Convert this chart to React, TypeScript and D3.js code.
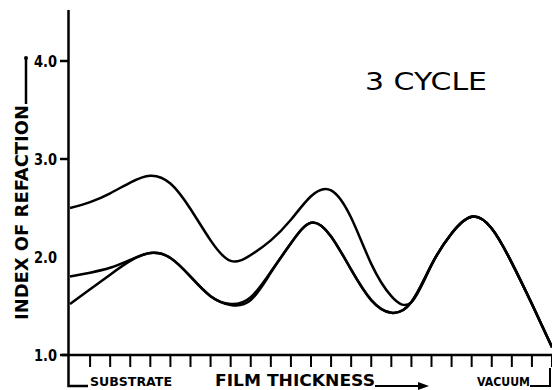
import * as d3 from "d3";
import React, { useRef, useEffect } from "react";

// film thickness steps (one per tick on the bottom axis)
const steps = [0, 1, 2, 3, 4, 5, 6, 7, 8, 9, 10, 11, 12, 13, 14, 15, 16, 17, 18, 19, 20, 21, 22, 23, 24];

const upperIndex = [2.5, 2.56, 2.65, 2.76, 2.83, 2.75, 2.49, 2.17, 1.96, 2.02, 2.17, 2.38, 2.62, 2.68, 2.4, 1.93, 1.6, 1.54, 1.92, 2.24, 2.41, 2.29, 1.94, 1.52, 1.08];
const middleIndex = [1.8, 1.84, 1.89, 1.97, 2.04, 1.99, 1.8, 1.6, 1.51, 1.56, 1.84, 2.14, 2.35, 2.21, 1.87, 1.56, 1.43, 1.54, 1.92, 2.24, 2.41, 2.29, 1.94, 1.52, 1.08];
const lowerIndex = [1.52, 1.67, 1.82, 1.96, 2.04, 1.99, 1.8, 1.6, 1.52, 1.59, 1.85, 2.14, 2.35, 2.21, 1.87, 1.56, 1.43, 1.54, 1.92, 2.24, 2.41, 2.29, 1.94, 1.52, 1.08];

const yTicks = [1, 2, 3, 4];
const yTickLabels = ["1.0", "2.0", "3.0", "4.0"];

const width = 552;
const height = 390;

export default function App() {
  const ref = useRef<SVGSVGElement>(null);

  useEffect(() => {
    const svg = d3.select(ref.current);
    svg.selectAll("*").remove();

    const x = d3.scaleLinear().domain([0, 24]).range([70, 552]);
    const y = d3.scaleLinear().domain([1, 4]).range([355, 61]);

    const ink = "#000";

    // y axis
    svg.append("line")
      .attr("x1", 68.5).attr("x2", 68.5)
      .attr("y1", 10).attr("y2", y(1))
      .attr("stroke", ink).attr("stroke-width", 2.5);

    // x axis
    svg.append("line")
      .attr("x1", 62).attr("x2", width)
      .attr("y1", y(1)).attr("y2", y(1))
      .attr("stroke", ink).attr("stroke-width", 2.5);

    // bottom ticks
    svg.append("g")
      .selectAll("line")
      .data(steps.slice(1))
      .enter()
      .append("line")
      .attr("x1", (d) => x(d)).attr("x2", (d) => x(d))
      .attr("y1", y(1)).attr("y2", y(1) + 12)
      .attr("stroke", ink).attr("stroke-width", 2);

    // left ticks + labels
    const yl = svg.append("g");
    yl.selectAll("line")
      .data(yTicks.filter((d) => d !== 2))
      .enter()
      .append("line")
      .attr("x1", 60).attr("x2", 69)
      .attr("y1", (d) => y(d)).attr("y2", (d) => y(d))
      .attr("stroke", ink).attr("stroke-width", 2.5);
    yl.selectAll("text")
      .data(yTicks)
      .enter()
      .append("text")
      .attr("x", 34)
      .attr("y", (d) => y(d) + 6)
      .attr("textLength", 23)
      .attr("lengthAdjust", "spacingAndGlyphs")
      .attr("font-family", "DejaVu Sans, sans-serif")
      .attr("font-weight", "bold")
      .attr("font-size", 16)
      .text((d, i) => yTickLabels[i]);

    // y axis title
    svg.append("text")
      .attr("transform", "translate(28,320) rotate(-90)")
      .attr("textLength", 215)
      .attr("lengthAdjust", "spacingAndGlyphs")
      .attr("font-family", "DejaVu Sans, sans-serif")
      .attr("font-weight", "bold")
      .attr("font-size", 17)
      .text("INDEX OF REFACTION");
    svg.append("path")
      .attr("d", "M26,104 V58")
      .attr("fill", "none").attr("stroke", ink).attr("stroke-width", 2.5);
    svg.append("circle").attr("cx", 26).attr("cy", 58).attr("r", 2).attr("fill", ink);

    // bottom labels
    svg.append("path")
      .attr("d", `M68.5,${y(1)} V386 H88`)
      .attr("fill", "none").attr("stroke", ink).attr("stroke-width", 2.5);
    svg.append("text")
      .attr("x", 90).attr("y", 386)
      .attr("textLength", 82)
      .attr("lengthAdjust", "spacingAndGlyphs")
      .attr("font-family", "DejaVu Sans, sans-serif")
      .attr("font-weight", "bold")
      .attr("font-size", 12)
      .text("SUBSTRATE");
    svg.append("text")
      .attr("x", 215).attr("y", 386)
      .attr("textLength", 160)
      .attr("lengthAdjust", "spacingAndGlyphs")
      .attr("font-family", "DejaVu Sans, sans-serif")
      .attr("font-weight", "bold")
      .attr("font-size", 15)
      .text("FILM THICKNESS");
    svg.append("path")
      .attr("d", "M375,386 H426")
      .attr("fill", "none").attr("stroke", ink).attr("stroke-width", 2);
    svg.append("path")
      .attr("d", "M418,382 L429,386 L418,390 Z")
      .attr("fill", ink);
    svg.append("text")
      .attr("x", 477).attr("y", 386)
      .attr("textLength", 53)
      .attr("lengthAdjust", "spacingAndGlyphs")
      .attr("font-family", "DejaVu Sans, sans-serif")
      .attr("font-weight", "bold")
      .attr("font-size", 12)
      .text("VACUUM");
    svg.append("path")
      .attr("d", "M530,386 H550 V368")
      .attr("fill", "none").attr("stroke", ink).attr("stroke-width", 2);

    // annotation
    svg.append("text")
      .attr("x", 365).attr("y", 90)
      .attr("textLength", 122)
      .attr("lengthAdjust", "spacingAndGlyphs")
      .attr("font-family", "DejaVu Sans, sans-serif")
      .attr("font-size", 25)
      .text("3 CYCLE");

    // curves
    const line = d3
      .line<number>()
      .x((d, i) => x(steps[i]))
      .y((d) => y(d))
      .curve(d3.curveNatural);

    [upperIndex, middleIndex, lowerIndex].forEach((series) => {
      svg.append("path")
        .datum(series)
        .attr("d", line)
        .attr("fill", "none")
        .attr("stroke", ink)
        .attr("stroke-width", 2.5);
    });
  }, []);

  return (
    <svg
      ref={ref}
      width={width}
      height={height}
      style={{ position: "absolute", left: 0, top: 0, background: "#fff" }}
    ></svg>
  );
}
